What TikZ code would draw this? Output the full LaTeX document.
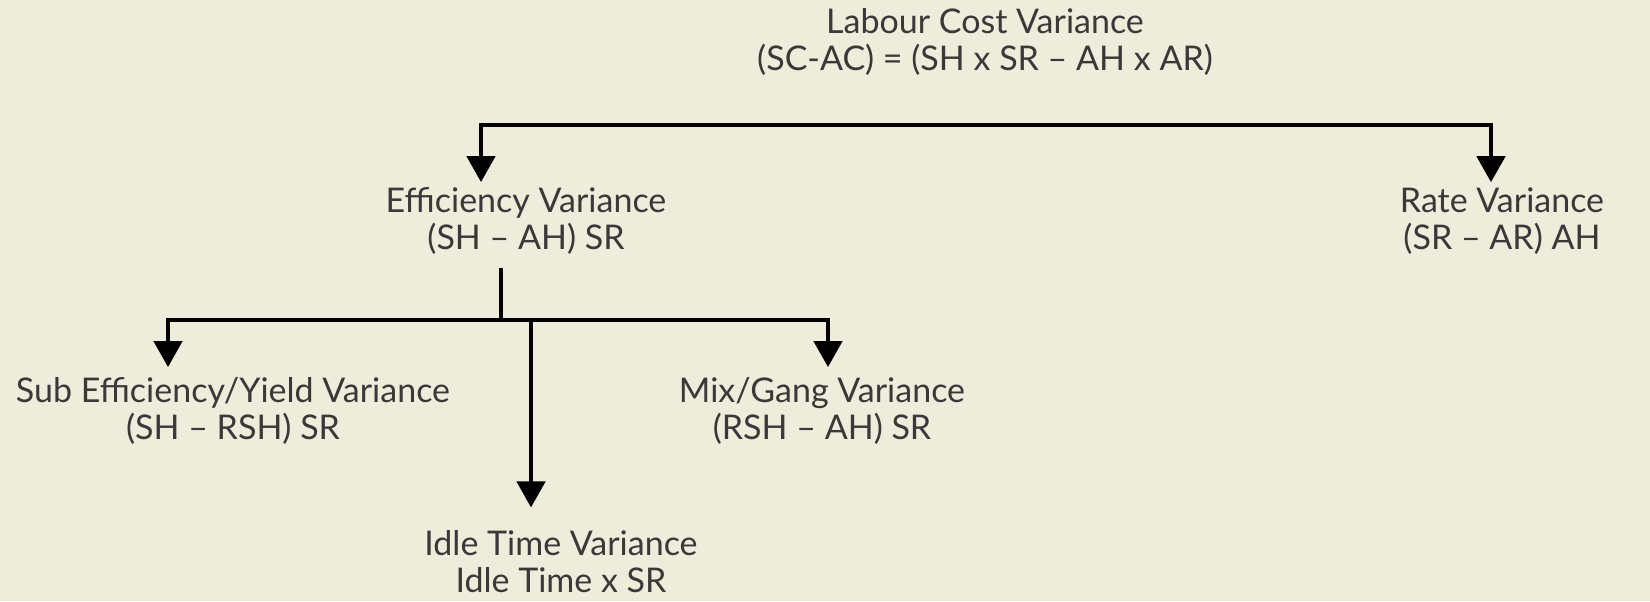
\documentclass[tikz,border=0pt]{standalone}
\usepackage{fontspec}
\setmainfont{Lato}
\usepackage{xcolor}
\usetikzlibrary{positioning,calc,arrows.meta}

\definecolor{paper}{HTML}{EEECDA}
\definecolor{ink}{HTML}{3A3838}

\begin{document}
\begin{tikzpicture}[
    x=0.5pt, y=-0.5pt,
    label/.style={align=center, text=ink, font=\fontsize{17}{18.5}\selectfont, inner sep=2pt},
    link/.style={line width=2.3pt, black},
    arrow/.style={link, -{Triangle[width=14pt,length=13pt]}},
    twoway/.style={link, {Triangle[width=14pt,length=13pt]}-{Triangle[width=14pt,length=13pt]}}
]
\useasboundingbox[fill=paper] (0,0) rectangle (1650,601);

\node[label] (total) at (985,42) {Labour Cost Variance\\(SC-AC) = (SH x SR -- AH x AR)};

\node[label] (eff)  at (526,221)  {Efficiency Variance\\(SH -- AH) SR};
\node[label] (rate) at (1502,221) {Rate Variance\\(SR -- AR) AH};

\node[label] (sub)  at (233,411) {Sub Efficiency/Yield Variance\\(SH -- RSH) SR};
\node[label] (mix)  at (822,411) {Mix/Gang Variance\\(RSH -- AH) SR};
\node[label] (idle) at (561,562) {Idle Time Variance\\Idle Time x SR};

% first split
\coordinate (barL) at (481,125);
\coordinate (barR) at (1491,125);
\draw[twoway] ([yshift=0.5pt]barL |- eff.north) -- (barL) -- (barR) -- ([yshift=0.5pt]barR |- rate.north);

% second split
\coordinate (joint)  at (501,320);
\coordinate (subtop) at (168,320);
\coordinate (mixtop) at (828,320);
\coordinate (idletop) at (531,320);
\draw[link] ([yshift=-4.5pt]joint |- eff.south) -- (joint);
\draw[twoway] ([yshift=3pt]subtop |- sub.north) -- (subtop) -- (mixtop) -- ([yshift=3pt]mixtop |- mix.north);
\draw[arrow] (idletop) -- ([yshift=9.5pt]idletop |- idle.north);
\end{tikzpicture}
\end{document}
